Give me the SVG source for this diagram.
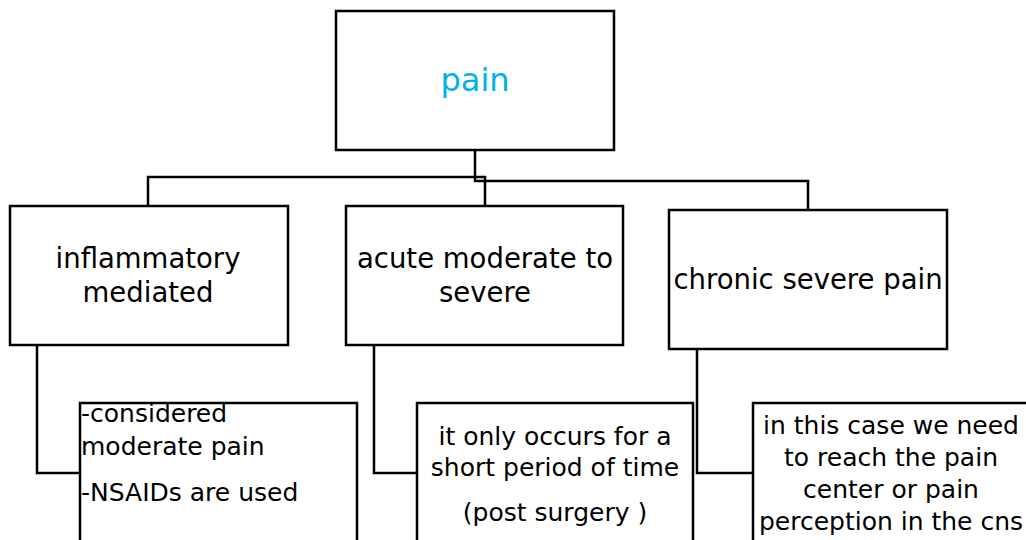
<svg xmlns="http://www.w3.org/2000/svg" width="1026" height="540" viewBox="0 0 1026 540">
<style>
.box{fill:#fff;stroke:#000;stroke-width:2.5}
.ln{fill:none;stroke:#000;stroke-width:2.5}
text{font-family:"DejaVu Sans","Liberation Sans",Arial,sans-serif;fill:#000}
.big{font-size:27.5px;text-anchor:middle}
.sm{font-size:25px}
.c{text-anchor:middle}
</style>
<rect width="1026" height="540" fill="#fff"/>
<g id="connectors">
<polyline class="ln" points="475,151 475,181 808,181 808,210"/>
<polyline class="ln" points="148,206 148,177 485,177 485,206"/>
<polyline class="ln" points="37,345 37,473 80,473"/>
<polyline class="ln" points="374,345 374,473 417,473"/>
<polyline class="ln" points="697,349 697,473 753,473"/>
</g>
<g id="pain">
<rect class="box" x="336" y="11" width="278" height="139"/>
<text x="475" y="91" style="font-size:32px;fill:#00B0F0" text-anchor="middle">pain</text>
</g>
<g id="inflammatory">
<rect class="box" x="10" y="206" width="278" height="139"/>
<text class="big" x="148" y="268">inflammatory</text>
<text class="big" x="148" y="302">mediated</text>
</g>
<g id="acute">
<rect class="box" x="346" y="206" width="277" height="139"/>
<text class="big" x="485" y="268">acute moderate to</text>
<text class="big" x="485" y="302">severe</text>
</g>
<g id="chronic">
<rect class="box" x="669" y="210" width="278" height="139"/>
<text class="big" x="808" y="289">chronic severe pain</text>
</g>
<g id="inflammatory-detail">
<rect class="box" x="80" y="403" width="277" height="160"/>
<text class="sm" x="81" y="422">-considered</text>
<text class="sm" x="81" y="455">moderate pain</text>
<text class="sm" x="81" y="501">-NSAIDs are used</text>
</g>
<g id="acute-detail">
<rect class="box" x="417" y="403" width="276" height="160"/>
<text class="sm c" x="555" y="445">it only occurs for a</text>
<text class="sm c" x="555" y="476">short period of time</text>
<text class="sm c" x="555" y="521">(post surgery )</text>
</g>
<g id="chronic-detail">
<rect class="box" x="753" y="403" width="290" height="160"/>
<text class="sm c" x="891" y="434">in this case we need</text>
<text class="sm c" x="891" y="466">to reach the pain</text>
<text class="sm c" x="891" y="498">center or pain</text>
<text class="sm c" x="891" y="530">perception in the cns</text>
</g>
</svg>
